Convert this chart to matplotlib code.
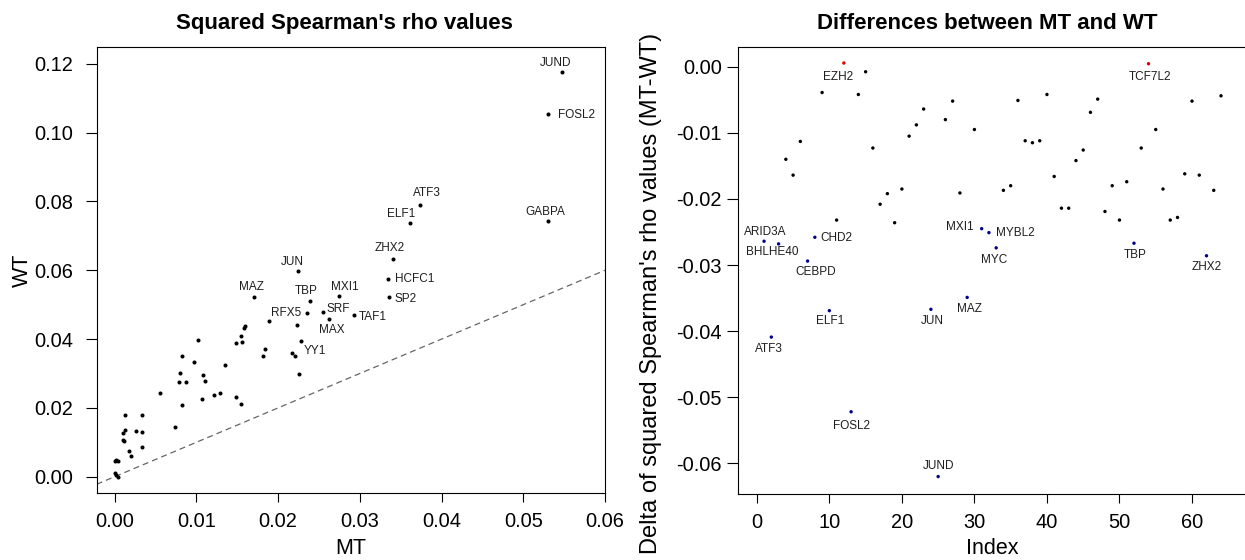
import numpy as np
import matplotlib
matplotlib.use("Agg")
import matplotlib.pyplot as plt

plt.rcParams['font.family'] = ['Liberation Sans', 'DejaVu Sans']

# Squared Spearman's rho per transcription factor, mutant (MT) vs wild type (WT).
# Empty names are factors drawn without a label.
tf_names = [
    "JUND", "FOSL2", "ATF3", "ELF1", "GABPA", "ZHX2", "HCFC1", "SP2", "JUN",
    "MAZ", "TBP", "MXI1", "RFX5", "SRF", "MAX", "TAF1", "YY1",
] + [""] * 46
mt_values = [
    0.0547, 0.0530, 0.0374, 0.0361, 0.0530, 0.0341, 0.0334, 0.0336, 0.0224,
    0.0171, 0.0239, 0.0275, 0.0235, 0.0255, 0.0262, 0.0293, 0.0221,
    0.0000, 0.0002, 0.0004, 0.0000, 0.0002, 0.0004, 0.0010, 0.0010, 0.0011,
    0.0013, 0.0013, 0.0018, 0.0020, 0.0026, 0.0033, 0.0033, 0.0033, 0.0055,
    0.0074, 0.0079, 0.0087, 0.0080, 0.0082, 0.0082, 0.0097, 0.0102, 0.0107,
    0.0108, 0.0111, 0.0121, 0.0129, 0.0135, 0.0148, 0.0149, 0.0155, 0.0156,
    0.0155, 0.0158, 0.0160, 0.0181, 0.0184, 0.0189, 0.0217, 0.0223, 0.0226,
    0.0228,
]
wt_values = [
    0.1176, 0.1054, 0.0790, 0.0738, 0.0744, 0.0634, 0.0574, 0.0522, 0.0598,
    0.0522, 0.0512, 0.0526, 0.0475, 0.0478, 0.0458, 0.0471, 0.0351,
    0.0047, 0.0048, 0.0047, 0.0010, 0.0006, 0.0000, 0.0126, 0.0107, 0.0105,
    0.0179, 0.0136, 0.0076, 0.0061, 0.0133, 0.0179, 0.0130, 0.0085, 0.0244,
    0.0144, 0.0275, 0.0275, 0.0302, 0.0351, 0.0208, 0.0334, 0.0398, 0.0225,
    0.0295, 0.0279, 0.0238, 0.0244, 0.0326, 0.0388, 0.0233, 0.0409, 0.0391,
    0.0211, 0.0431, 0.0438, 0.0352, 0.0370, 0.0452, 0.0360, 0.0441, 0.0299,
    0.0395,
]

# Difference MT - WT of the squared rho, in factor index order (1..64)
delta_values = [
    -0.0264, -0.0409, -0.0268, -0.0140, -0.0164, -0.0113, -0.0294, -0.0258,
    -0.0039, -0.0369, -0.0232, 0.00056, -0.0522, -0.0042, -0.00076, -0.0123,
    -0.0208, -0.0192, -0.0236, -0.0185, -0.0105, -0.0088, -0.0064, -0.0367,
    -0.0620, -0.0080, -0.0052, -0.0191, -0.0349, -0.0095, -0.0245, -0.0251,
    -0.0274, -0.0187, -0.0180, -0.0051, -0.0112, -0.0115, -0.0112, -0.0042,
    -0.0166, -0.0214, -0.0214, -0.0142, -0.0126, -0.0069, -0.0049, -0.0219,
    -0.0180, -0.0232, -0.0174, -0.0267, -0.0123, 0.00045, -0.0095, -0.0185,
    -0.0232, -0.0228, -0.0162, -0.0052, -0.0164, -0.0286, -0.0187, -0.0044,
]
delta_names = [""] * 64
for idx, name in [
    (1, "ARID3A"), (2, "ATF3"), (3, "BHLHE40"), (7, "CEBPD"), (8, "CHD2"),
    (10, "ELF1"), (12, "EZH2"), (13, "FOSL2"), (24, "JUN"), (25, "JUND"),
    (29, "MAZ"), (31, "MXI1"), (32, "MYBL2"), (33, "MYC"), (52, "TBP"),
    (54, "TCF7L2"), (62, "ZHX2"),
]:
    delta_names[idx - 1] = name

# ---------------------------------------------------------------- styling
DPI = 100
PX = 72.0 / DPI          # one pixel in points
TICK_SIZE = 14.4
LABEL_SIZE = 15.5
TITLE_SIZE = 16
POINT_LABEL_SIZE = 8.5
TEXT_DARK = "#1e1e1e"

# label placement around each point: (dx, dy) in pixels (dy downwards), anchor
left_placement = {
    "JUND": (-5.7, -9, "center"), "FOSL2": (10, 1, "left"),
    "ATF3": (6.7, -12.3, "center"), "ELF1": (-8.3, -9.3, "center"),
    "GABPA": (-2, -9, "center"), "ZHX2": (-3.3, -10.3, "center"),
    "HCFC1": (7, 0, "left"), "SP2": (5.3, 2, "left"),
    "JUN": (-5.3, -8.7, "center"), "MAZ": (-3, -10, "center"),
    "TBP": (-3.3, -10, "center"), "MXI1": (5.7, -8.3, "center"),
    "RFX5": (-5, 0, "right"), "SRF": (3.3, -3.3, "left"),
    "MAX": (3, 11, "center"), "TAF1": (4.7, 2.7, "left"),
    "YY1": (8, -5, "left"),
}
right_placement = {
    "EZH2": (-6, 14.3, "center"), "ARID3A": (0.7, -9.3, "center"),
    "BHLHE40": (-6, 8.3, "center"), "CHD2": (6, 1, "left"),
    "CEBPD": (8.3, 11.3, "center"), "ATF3": (-2.7, 11.7, "center"),
    "ELF1": (0.7, 10, "center"), "JUN": (1.3, 11.7, "center"),
    "MAZ": (2, 11.7, "center"), "FOSL2": (0, 14, "center"),
    "JUND": (0, -10.7, "center"), "TCF7L2": (1.3, 13.7, "center"),
    "MXI1": (-7.7, -2, "right"), "MYBL2": (7.3, 0.7, "left"),
    "MYC": (-2.3, 12, "center"), "TBP": (1.7, 11.3, "center"),
    "ZHX2": (0, 11.3, "center"),
}


def label_points(ax, xs, ys, names, placement):
    for x, y, name in zip(xs, ys, names):
        if not name:
            continue
        dx, dy, ha = placement[name]
        ax.annotate(name, (x, y), xytext=(dx * PX, -dy * PX),
                    textcoords="offset points", ha=ha, va="center",
                    fontsize=POINT_LABEL_SIZE, color=TEXT_DARK)


def style_axes(ax, ylen, ypad):
    for sp in ax.spines.values():
        sp.set_linewidth(0.8)
        sp.set_color("black")
    ax.tick_params(axis="x", direction="out", length=9 * PX, width=0.8,
                   pad=9.5 * PX, labelsize=TICK_SIZE, colors="black")
    ax.tick_params(axis="y", direction="out", length=ylen * PX, width=0.8,
                   pad=ypad * PX, labelsize=TICK_SIZE, colors="black")


fig = plt.figure(figsize=(12.45, 5.6), dpi=DPI)
W, H = 1245.0, 560.0


def axes_at(left, top, right, bottom):
    return fig.add_axes([left / W, 1 - bottom / H, (right - left) / W,
                         (bottom - top) / H])


# ---------------------------------------------------------------- left panel
ax1 = axes_at(96.7, 46.9, 605.0, 493.3)
mt = np.asarray(mt_values)
wt = np.asarray(wt_values)
ax1.set_xlim(-0.0022, 0.0600)
ax1.set_ylim(-0.00483, 0.12494)
diag = np.array(ax1.get_xlim())
ax1.plot(diag, diag, color="#666666", lw=0.9, linestyle=(0, (4.8, 3.2)),
         zorder=1)
ax1.scatter(mt, wt, s=8.5, color="black", linewidths=0, zorder=3)
label_points(ax1, mt, wt, tf_names, left_placement)
ax1.set_xticks(np.arange(0, 0.061, 0.01))
ax1.set_yticks(np.arange(0, 0.121, 0.02))
ax1.xaxis.set_major_formatter(matplotlib.ticker.FormatStrFormatter("%.2f"))
ax1.yaxis.set_major_formatter(matplotlib.ticker.FormatStrFormatter("%.2f"))
style_axes(ax1, 11, 12.3)
ax1.set_xlabel("MT", fontsize=LABEL_SIZE, va="baseline")
ax1.xaxis.set_label_coords(0.5, (493.3 - 553.5) / 446.4)
ax1.set_ylabel("WT", fontsize=LABEL_SIZE, va="center")
ax1.yaxis.set_label_coords((22 - 96.7) / 508.3, 0.5)

# ---------------------------------------------------------------- right panel
ax2 = axes_at(738.4, 46.7, 1246.4, 494.0)
delta = np.asarray(delta_values)
index = np.arange(1, len(delta) + 1)
colors = np.where(delta > 0, "#e00000",
                  np.where(delta < -0.024, "#00008b", "black"))
ax2.set_xlim(-2.54, 67.5)
ax2.set_ylim(-0.06464, 0.00303)
ax2.scatter(index, delta, s=6, c=colors, linewidths=0, zorder=3)
label_points(ax2, index, delta, delta_names, right_placement)
ax2.set_xticks(np.arange(0, 61, 10))
ax2.set_yticks(np.arange(0, -0.061, -0.01))
ax2.yaxis.set_major_formatter(matplotlib.ticker.FormatStrFormatter("%.2f"))
style_axes(ax2, 11.1, 5.6)
ax2.set_xlabel("Index", fontsize=LABEL_SIZE, va="baseline")
ax2.xaxis.set_label_coords(0.5, (494.0 - 553.5) / 447.3)
ax2.set_ylabel("Delta of squared Spearman's rho values (MT-WT)",
               fontsize=17, va="center")
ax2.yaxis.set_label_coords((651 - 738.4) / 508.0, (494.0 - 293.0) / 447.3)

# ---------------------------------------------------------------- titles
fig.text(344 / W, 1 - 29 / H, "Squared Spearman's rho values",
         ha="center", va="baseline", fontsize=TITLE_SIZE, fontweight="bold")
fig.text(987.5 / W, 1 - 29 / H, "Differences between MT and WT",
         ha="center", va="baseline", fontsize=TITLE_SIZE, fontweight="bold")

fig.savefig("out.png", dpi=DPI)
